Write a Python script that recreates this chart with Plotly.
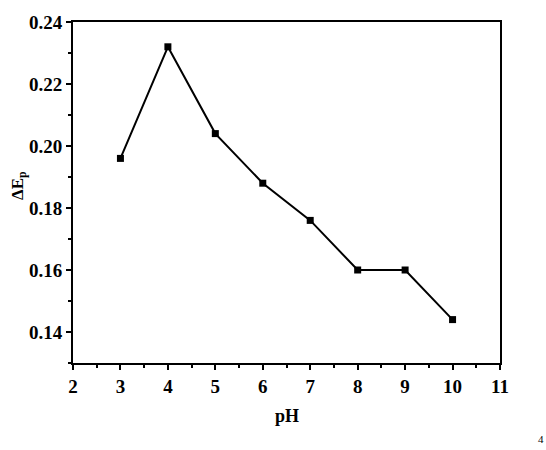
import plotly.graph_objects as go

ph = [3, 4, 5, 6, 7, 8, 9, 10]
delta_ep = [0.196, 0.232, 0.204, 0.188, 0.176, 0.160, 0.160, 0.144]
x_ticks = [2, 3, 4, 5, 6, 7, 8, 9, 10, 11]
y_ticks = [0.14, 0.16, 0.18, 0.20, 0.22, 0.24]

font_family = "Liberation Serif"

fig = go.Figure()
fig.add_trace(go.Scatter(
    x=ph, y=delta_ep, mode="lines+markers",
    line=dict(color="black", width=2),
    marker=dict(symbol="square", size=7, color="black"),
    showlegend=False,
))

axis_common = dict(
    showline=True, linecolor="black", linewidth=2, mirror=True,
    ticks="outside", ticklen=5, tickwidth=2, tickcolor="black",
    showgrid=False, zeroline=False,
    tickfont=dict(family=font_family, size=19, color="black"),
)

fig.update_xaxes(
    range=[2, 11], tickvals=x_ticks, ticktext=[f"<b>{v}</b>" for v in x_ticks],
    minor=dict(ticks="outside", ticklen=3, tickwidth=2, tickcolor="black", dtick=0.5, tick0=2),
    **axis_common,
)
fig.update_yaxes(
    range=[0.13, 0.24], tickvals=y_ticks, ticktext=[f"<b>{v:.2f}</b>" for v in y_ticks],
    minor=dict(ticks="outside", ticklen=3, tickwidth=2, tickcolor="black", dtick=0.01, tick0=0.13),
    **axis_common,
)

fig.update_layout(
    width=546, height=450,
    margin=dict(l=73, r=46, t=16, b=87),
    paper_bgcolor="white", plot_bgcolor="white",
    font=dict(family=font_family, color="black", size=18),
    annotations=[
        dict(text="<b>pH</b>", xref="paper", yref="paper", x=0.5, y=-0.12,
             xanchor="center", yanchor="top", showarrow=False,
             font=dict(family=font_family, size=18, color="black")),
        dict(text="<b>ΔE<sub>p</sub></b>", xref="paper", yref="paper", x=-0.128, y=0.52,
             xanchor="center", yanchor="middle", showarrow=False, textangle=-90,
             font=dict(family=font_family, size=17, color="black")),
        dict(text="4", xref="paper", yref="paper", x=1.085, y=-0.247,
             xanchor="left", yanchor="bottom", showarrow=False,
             font=dict(family=font_family, size=11, color="black")),
    ],
)

fig.write_html("out.html")
